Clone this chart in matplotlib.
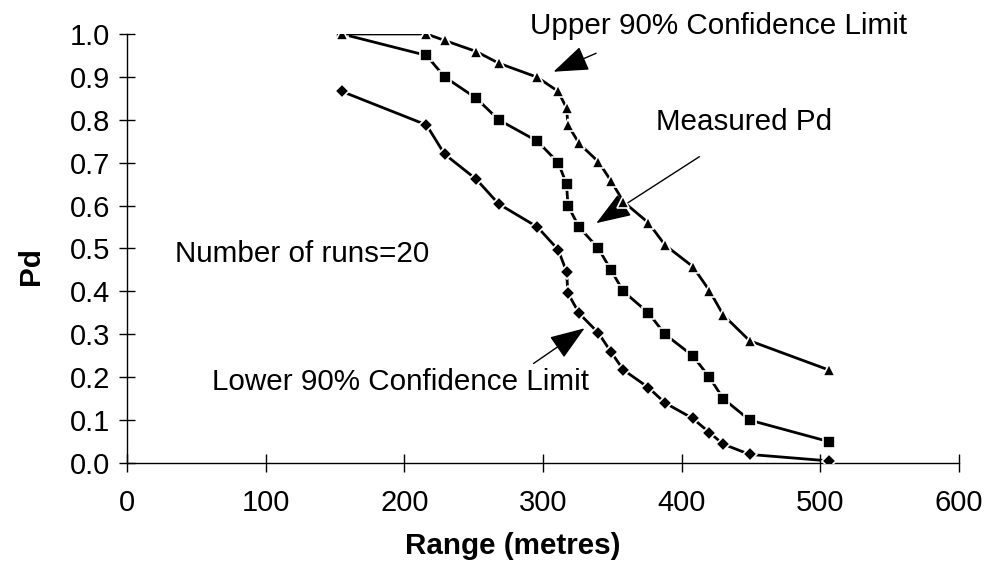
"""Pd versus range with 90% confidence limits."""

import matplotlib
matplotlib.use('Agg')
import matplotlib.pyplot as plt

plt.rcParams['font.family'] = ['Liberation Sans', 'DejaVu Sans']

range_m = [155, 216, 229, 252, 268, 296, 311, 317, 318, 326,
           340, 349, 358, 376, 388, 408, 420, 430, 449, 506]
measured_pd = [1.00, 0.95, 0.90, 0.85, 0.80, 0.75, 0.70, 0.65, 0.60, 0.55,
               0.50, 0.45, 0.40, 0.35, 0.30, 0.25, 0.20, 0.15, 0.10, 0.05]
upper_pd = [1.000, 1.000, 0.985, 0.959, 0.932, 0.899, 0.866, 0.827, 0.788, 0.745,
            0.702, 0.658, 0.609, 0.560, 0.508, 0.458, 0.402, 0.345, 0.285, 0.217]
lower_pd = [0.866, 0.788, 0.720, 0.661, 0.604, 0.550, 0.497, 0.446, 0.396, 0.349,
            0.303, 0.259, 0.217, 0.176, 0.140, 0.104, 0.071, 0.044, 0.020, 0.005]

x_ticks = [0, 100, 200, 300, 400, 500, 600]
y_ticks = [0.0, 0.1, 0.2, 0.3, 0.4, 0.5, 0.6, 0.7, 0.8, 0.9, 1.0]

FS = 21.3

fig = plt.figure(figsize=(9.85, 5.7), dpi=100)
ax = fig.add_axes([0.1289, 0.1877, 0.8447, 0.7527])

line_kw = dict(color='black', lw=2.0, markeredgecolor='white', markeredgewidth=1.2)
ax.plot(range_m, lower_pd, marker='D', markersize=7, markerfacecolor='black', zorder=3, **line_kw)
ax.plot(range_m, measured_pd, marker='s', markersize=9, markerfacecolor='black', zorder=3, **line_kw)
ax.plot(range_m, upper_pd, marker='^', markersize=9, markerfacecolor='black', zorder=4, **line_kw)

ax.set_xlim(0, 600)
ax.set_ylim(0, 1.0)
ax.set_xticks(x_ticks)
ax.set_yticks(y_ticks)
ax.set_yticklabels([f'{v:.1f}' for v in y_ticks])
ax.tick_params(axis='both', direction='inout', labelsize=21, width=1)
ax.tick_params(axis='x', length=13, pad=12)
ax.tick_params(axis='y', length=12, pad=6)
for side in ('top', 'right'):
    ax.spines[side].set_visible(False)
ax.spines['left'].set_linewidth(1)
ax.spines['bottom'].set_linewidth(1)

ax.set_xlabel('Range (metres)', fontsize=FS, fontweight='bold')
ax.set_ylabel('Pd', fontsize=FS, fontweight='bold')
ax.xaxis.set_label_coords(0.464, -0.16)
ax.yaxis.set_label_coords(-0.099, 0.46)

arrow = dict(arrowstyle='-|>,head_length=1.1,head_width=0.4', mutation_scale=20,
             color='black', lw=1, shrinkA=0, shrinkB=0)

ax.text(34.6, 0.469, 'Number of runs=20', fontsize=FS, va='baseline', ha='left')

ax.text(426.5, 1.019, 'Upper 90% Confidence Limit', fontsize=FS, ha='center', va='center')
ax.annotate('', xy=(307.6, 0.912), xytext=(338.3, 0.955), arrowprops=arrow)

ax.text(445, 0.795, 'Measured Pd', fontsize=FS, ha='center', va='center')
ax.annotate('', xy=(338.4, 0.559), xytext=(412.8, 0.714), arrowprops=arrow)

ax.text(197.4, 0.189, 'Lower 90% Confidence Limit', fontsize=FS, ha='center', va='center')
ax.annotate('', xy=(330, 0.314), xytext=(293.2, 0.232), arrowprops=arrow)

fig.savefig('out.png', dpi=100)
